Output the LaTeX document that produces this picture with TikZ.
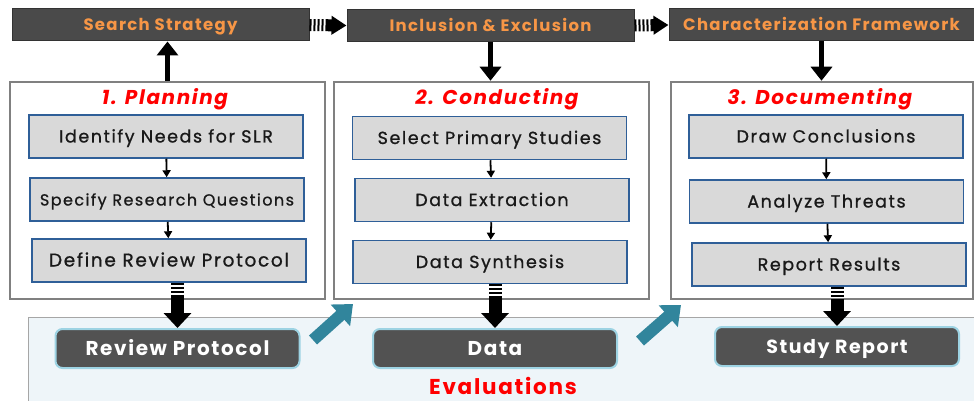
\documentclass[tikz,border=0pt]{standalone}
\usepackage{fontspec}
\setmainfont{Poppins}[LetterSpace=8]
\newfontfamily\stepfont{Poppins}[LetterSpace=9, FakeBold=0.9]
\usetikzlibrary{arrows.meta}

\definecolor{barGray}{HTML}{4A4A4A}
\definecolor{barOrange}{HTML}{F79646}
\definecolor{panelGray}{HTML}{808080}
\definecolor{boxGray}{HTML}{D9D9D9}
\definecolor{boxBlue}{HTML}{2F5F98}
\definecolor{evalFill}{HTML}{EEF5F9}
\definecolor{evalBorder}{HTML}{A6A6A6}
\definecolor{outGray}{HTML}{525252}
\definecolor{glowBlue}{HTML}{9DD3E3}
\definecolor{tealArrow}{HTML}{31859C}

\tikzset{
  topbar/.style={draw=black!80, fill=barGray, line width=1pt, text=barOrange,
    font=\bfseries\fontsize{16.5}{18}\selectfont, minimum height=32pt, inner sep=0pt,
    text height=11.5pt, text depth=0pt},
  phase/.style={draw=panelGray, line width=2.5pt, fill=white, minimum width=315pt, minimum height=217pt},
  phasetitle/.style={text=red, font=\bfseries\itshape\fontsize{20}{22}\selectfont},
  stepbox/.style={draw=boxBlue, fill=boxGray, line width=1.5pt, minimum width=274pt,
    minimum height=43pt, inner sep=0pt, font=\stepfont\fontsize{17.5}{19}\selectfont, text=black!90,
    text height=12pt, text depth=0pt},
  outbox/.style={draw=glowBlue, fill=outGray, line width=2pt, rounded corners=7pt,
    minimum width=244pt, minimum height=39pt, inner sep=0pt, text=white,
    font=\bfseries\fontsize{20}{22}\selectfont, text height=14pt, text depth=0pt},
  smallarrow/.style={-{Triangle[width=8pt,length=7pt]}, line width=1.8pt},
  linkarrow/.style={-{Triangle[width=21pt,length=14pt]}, line width=5pt},
  stripeh/.style={-{Triangle[width=18pt,length=15pt]}, line width=12pt,
    dash pattern=on 2pt off 2pt on 2pt off 2pt on 2pt off 2pt on 2pt off 2pt on 20pt},
  stripev/.style={-{Triangle[width=27pt,length=15pt]}, line width=13pt,
    dash pattern=on 2pt off 2pt on 2pt off 2pt on 2pt off 2pt on 40pt},
  tealarrow/.style={-{Triangle[width=28pt,length=17pt]}, line width=12pt, draw=tealArrow}
}

\begin{document}
\begin{tikzpicture}[x=1pt, y=-1pt]
  \useasboundingbox (0,0) rectangle (974,401);

  % evaluation strip
  \node[draw=evalBorder, fill=evalFill, line width=1pt, minimum width=950pt, minimum height=86pt] (evalarea) at (503,360) {};
  \node[anchor=base, inner sep=0pt, text=red, font=\bfseries\fontsize{21.5}{22}\selectfont] (evaltitle) at (503,394) {Evaluations};

  % top bars
  \node[topbar, minimum width=297pt] (search) at (160.5,25) {Search Strategy};
  \node[topbar, minimum width=287pt] (incl) at (490.5,25.5) {Inclusion \& Exclusion};
  \node[topbar, minimum width=305pt] (charfw) at (821.5,25) {Characterization Framework};

  % phases
  \node[phase] (plan) at (167.5,190.5) {};
  \node[phase] (cond) at (491.5,190.5) {};
  \node[phase, minimum width=302pt] (docu) at (822,190.5) {};

  \node[phasetitle] (plantitle) at (165,99) {1. Planning};
  \node[phasetitle] (condtitle) at (497,99) {2. Conducting};
  \node[phasetitle] (docutitle) at (820,99) {3. Documenting};

  % planning steps
  \node[stepbox] (idn) at (166,136.5) {Identify Needs for SLR};
  \node[stepbox, font=\stepfont\fontsize{16}{18}\selectfont] (srq) at (167,199.5) {Specify Research Questions};
  \node[stepbox, font=\stepfont\fontsize{18.5}{20}\selectfont] (drp) at (169,260.5) {Define Review Protocol};

  % conducting steps
  \node[stepbox] (sps) at (489.5,138) {Select Primary Studies};
  \node[stepbox] (dex) at (492,200) {Data Extraction};
  \node[stepbox] (dsy) at (490,262) {Data Synthesis};

  % documenting steps
  \node[stepbox] (dco) at (826,136.5) {Draw Conclusions};
  \node[stepbox] (ath) at (826.5,201.5) {Analyze Threats};
  \node[stepbox] (rre) at (829,264.5) {Report Results};

  % outputs
  \node[outbox] (revprot) at (177.5,348.5) {Review Protocol};
  \node[outbox] (data) at (495,348.5) {Data};
  \node[outbox, font=\bfseries\fontsize{19}{21}\selectfont] (report) at (837,346.5) {Study Report};

  % links to the top bars
  \draw[linkarrow] (plan.north) -- (plan.north |- search.south);
  \draw[linkarrow] (incl.south) -- (incl.south |- cond.north);
  \draw[linkarrow] (charfw.south) -- (charfw.south |- docu.north);
  \draw[stripeh] (search.east) -- (incl.west);
  \draw[stripeh] (incl.east) -- (charfw.west);

  % steps
  \draw[smallarrow] (idn) -- (srq);
  \draw[smallarrow] (srq) -- (drp);
  \draw[smallarrow] (sps) -- (dex);
  \draw[smallarrow] (dex) -- (dsy);
  \draw[smallarrow] (dco) -- (ath);
  \draw[smallarrow] (ath) -- (rre);

  % outputs of each phase
  \draw[stripev] (revprot.north |- drp.south) -- (revprot.north);
  \draw[stripev] (data.north |- dsy.south) -- (data.north);
  \draw[stripev] (report.north |- rre.south) -- (report.north);

  % hand over to the next phase
  \coordinate (tail1) at (313,340);
  \coordinate (head1) at (353,304);
  \coordinate (tail2) at (640,341);
  \coordinate (head2) at (681,305);
  \draw[tealarrow] (tail1) -- (head1);
  \draw[tealarrow] (tail2) -- (head2);
\end{tikzpicture}
\end{document}
